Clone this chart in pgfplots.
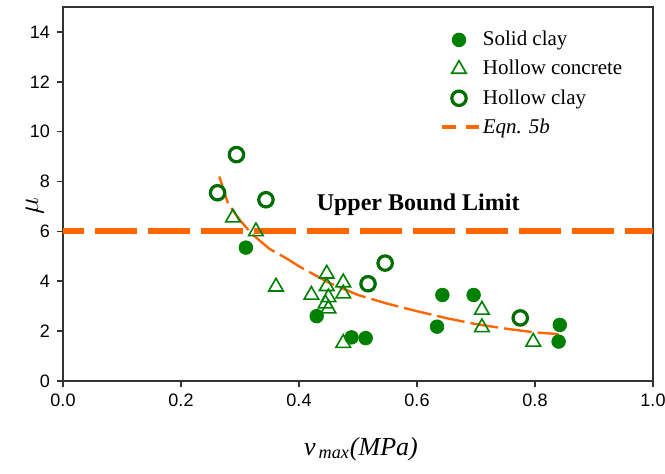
\documentclass[border=0pt]{standalone}
\usepackage{pgfplots}
\pgfplotsset{compat=1.18}
\usetikzlibrary{calc}
\usepackage{fontspec}
\setmainfont{Liberation Serif}
\newfontfamily\tickfont{Liberation Sans}
\definecolor{mygreen}{RGB}{0,128,0}
\definecolor{myorange}{RGB}{255,102,0}

\begin{document}
\begin{tikzpicture}
\begin{axis}[
    name=ax,
    scale only axis,
    width=295pt, height=187pt,
    xmin=0, xmax=1, ymin=0, ymax=15,
    xtick={0,0.2,0.4,0.6,0.8,1.0},
    ytick={0,2,4,6,8,10,12,14},
    axis line style={black!80, line width=0.8pt},
    tick style={black!80, line width=0.8pt},
    tick align=outside,
    major tick length=3pt,
    xtick pos=bottom, ytick pos=left,
    /pgf/number format/assume math mode=true,
    xticklabel style={font=\tickfont\fontsize{9}{10}\selectfont,
        /pgf/number format/.cd, fixed, fixed zerofill, precision=1},
    yticklabel style={font=\tickfont\fontsize{9}{10}\selectfont},
    xlabel={\textit{v}\textsubscript{\textit{\,max}}\textit{(MPa)}},
    xlabel style={font=\fontsize{13}{15}\selectfont,
        at={(axis description cs:0.505,-0.182)}, anchor=center},
    ylabel={$\mu$},
    ylabel style={font=\fontsize{14}{15}\selectfont,
        at={(axis description cs:-0.048,0.467)}, anchor=center},
    legend style={at={(0.628,0.958)}, anchor=north west, draw=none, fill=none,
        font=\fontsize{10.5}{12}\selectfont, row sep=1.8pt,
        nodes={inner xsep=1pt}},
    legend cell align={left},
]
\addplot[only marks, mark=*, mark size=3.4pt, color=mygreen,
    mark options={fill=mygreen}] coordinates {
    (0.310,5.35) (0.430,2.60) (0.489,1.75) (0.513,1.72)
    (0.634,2.18) (0.643,3.45) (0.696,3.45) (0.842,2.25) (0.840,1.58)
};
\addlegendentry{Solid clay}
\addplot[only marks, mark=triangle, mark size=4.2pt, color=mygreen,
    mark options={line width=0.8pt}] coordinates {
    (0.288,6.55) (0.327,6.00) (0.361,3.78) (0.421,3.45)
    (0.447,4.30) (0.447,3.80) (0.450,3.35) (0.445,3.10) (0.450,2.90)
    (0.475,3.95) (0.475,3.50) (0.475,1.52)
    (0.710,2.85) (0.710,2.15) (0.797,1.57)
};
\addlegendentry{Hollow concrete}
\addplot[only marks, mark=o, mark size=3.6pt, color=mygreen!85!black,
    mark options={line width=1.6pt}] coordinates {
    (0.262,7.55) (0.294,9.08) (0.344,7.27) (0.517,3.90) (0.546,4.73) (0.775,2.53)
};
\addlegendentry{Hollow clay}
\addplot[myorange, line width=1.2pt, dash pattern=on 14pt off 3pt,
    legend image code/.code={
        \draw[myorange, line width=2pt, dash pattern=on 7pt off 5pt]
        (0cm,0cm) -- (0.65cm,0cm);}] coordinates {
    (0.265,8.20) (0.280,7.10) (0.300,6.45) (0.320,5.90) (0.350,5.30)
    (0.380,4.90) (0.400,4.60) (0.450,3.95) (0.500,3.45) (0.550,3.10)
    (0.600,2.80) (0.650,2.52) (0.700,2.28) (0.750,2.10) (0.800,1.95) (0.840,1.88)
};
\addlegendentry{\textit{Eqn. 5b}}
% upper bound
\addplot[myorange, line width=3pt, dash pattern=on 21pt off 5.5pt,
    dash phase=10.5pt, forget plot] coordinates {(0,6) (1,6)};
\node[font=\bfseries\fontsize{12}{14}\selectfont] at (axis cs:0.602,7.07)
    {Upper Bound Limit};
\end{axis}
\pgfresetboundingbox
\path (ax.south west) ++(-31.5pt,-46pt) rectangle ($(ax.north east)+(6pt,3.5pt)$);
\end{tikzpicture}
\end{document}
